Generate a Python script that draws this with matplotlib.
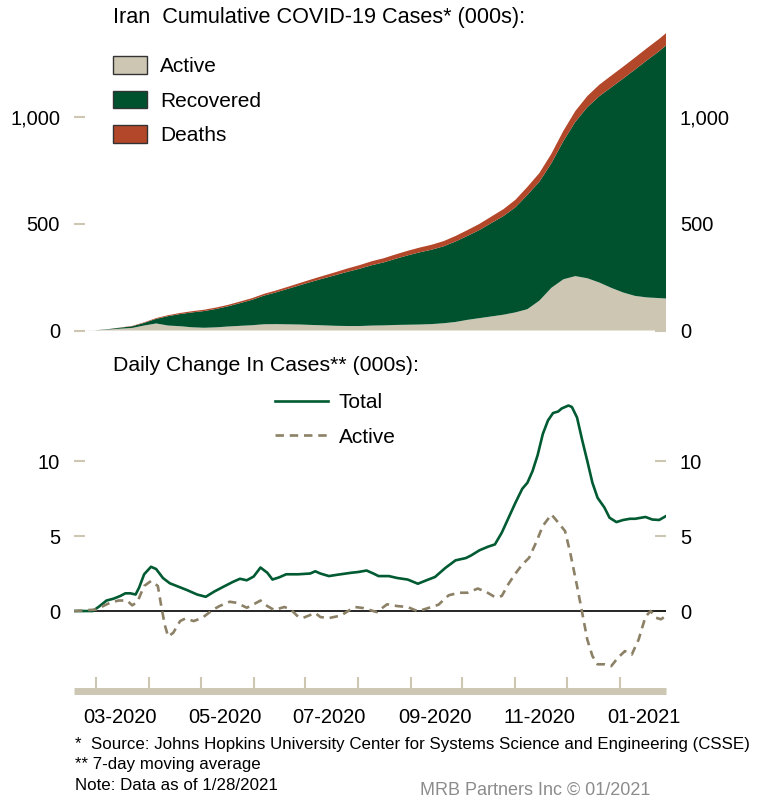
import matplotlib
matplotlib.use("Agg")
import matplotlib.pyplot as plt
import matplotlib.dates as mdates
from matplotlib.patches import Patch
from matplotlib.ticker import FuncFormatter
import numpy as np
import pandas as pd

plt.rcParams["font.family"] = ["Liberation Sans", "DejaVu Sans"]

BASE = pd.Timestamp("2020-02-17")

# cumulative series (000s), day = days since 2020-02-17
cum_day = [0, 12, 20, 27, 34, 41, 48, 55, 62, 69, 76, 83, 90, 97, 104, 111, 118,
           125, 132, 139, 146, 153, 160, 167, 174, 181, 188, 195, 202, 209, 216,
           223, 230, 237, 244, 251, 258, 265, 272, 279, 286, 293, 300, 307, 314,
           321, 328, 335, 342, 346]
confirmed = [0, 0.6, 6.6, 13.9, 21.6, 38.3, 58.2, 71.7, 82.2, 90.5, 97.4, 107.6,
             120.2, 135.7, 151.5, 171.8, 187.4, 204.9, 222.7, 240.4, 257.3, 273.8,
             291.2, 306.8, 324.7, 338.8, 356.8, 373.6, 388.8, 402.0, 419.0, 443.1,
             471.0, 500.1, 534.6, 568.9, 612.8, 673.3, 738.3, 828.4, 935.8, 1028.9,
             1099.0, 1152.1, 1194.9, 1237.1, 1280.4, 1324.6, 1367.0, 1394.0]
deaths = [0, 0.04, 0.19, 0.72, 1.69, 2.64, 3.6, 4.47, 5.12, 5.71, 6.2, 6.64, 6.94,
          7.42, 7.88, 8.28, 8.73, 9.5, 10.5, 11.57, 12.6, 13.8, 15.7, 17.0, 18.6,
          19.5, 20.6, 21.5, 22.3, 23.2, 24.3, 25.6, 27.2, 28.8, 30.4, 32.3, 34.9,
          37.4, 40.6, 44.3, 48.2, 50.6, 52.3, 53.8, 54.8, 55.5, 56.2, 56.9, 57.4,
          57.7]
active = [0, 0.5, 4.5, 8.6, 12.0, 23.3, 33.0, 23.3, 20.1, 15.1, 12.8, 14.8, 18.7,
          21.8, 24.7, 29.2, 30.0, 29.0, 28.0, 26.0, 24.0, 22.0, 21.0, 21.0, 23.0,
          24.0, 26.0, 27.0, 28.0, 30.0, 34.0, 40.0, 50.0, 58.0, 66.0, 74.0, 85.0,
          100.0, 140.0, 200.0, 240.0, 255.0, 245.0, 225.0, 200.0, 178.0, 162.0,
          155.0, 152.0, 150.0]

# daily change, 7-day moving average (000s)
total_day = [0, 11, 15, 19, 23, 27, 30, 33, 36, 38, 41, 45, 48, 52, 56, 60, 66, 72,
             77, 82, 87, 93, 97, 101, 105, 109, 113, 116, 120, 124, 131, 138, 141,
             144, 149, 154, 162, 166, 171, 175, 178, 184, 189, 195, 201, 206, 211,
             217, 223, 229, 232, 237, 242, 246, 250, 254, 258, 262, 265, 268, 271,
             274, 277, 280, 283, 285, 289, 291, 294, 297, 300, 303, 306, 310, 313,
             317, 321, 325, 328, 334, 338, 342, 346]
total_chg = [0, 0.0, 0.33, 0.7, 0.82, 1.0, 1.18, 1.18, 1.1, 1.55, 2.45, 2.95, 2.8,
             2.2, 1.85, 1.67, 1.4, 1.1, 0.95, 1.3, 1.6, 1.95, 2.15, 2.05, 2.3, 2.9,
             2.55, 2.1, 2.25, 2.45, 2.45, 2.5, 2.65, 2.5, 2.33, 2.42, 2.55, 2.6,
             2.7, 2.5, 2.33, 2.33, 2.2, 2.1, 1.82, 2.05, 2.27, 2.87, 3.38, 3.53,
             3.7, 4.05, 4.29, 4.44, 5.22, 6.22, 7.22, 8.15, 8.55, 9.33, 10.4, 11.8,
             12.7, 13.2, 13.3, 13.5, 13.7, 13.6, 12.9, 11.4, 10.0, 8.55, 7.55, 6.9,
             6.22, 5.93, 6.07, 6.15, 6.15, 6.27, 6.1, 6.07, 6.33]
active_day = [0, 13, 17, 21, 26, 31, 34, 37, 41, 45, 49, 51, 53, 55, 58, 62, 65, 70,
              75, 81, 85, 91, 95, 101, 105, 109, 113, 117, 123, 127, 131, 134, 141,
              144, 149, 156, 164, 169, 177, 183, 189, 195, 201, 207, 213, 219, 225,
              230, 236, 241, 246, 250, 254, 258, 262, 266, 270, 274, 279, 283, 287,
              290, 294, 297, 300, 303, 306, 310, 314, 318, 322, 326, 330, 334, 337,
              340, 343, 346]
active_chg = [0, 0.1, 0.33, 0.55, 0.7, 0.7, 0.38, 0.6, 1.67, 2.0, 1.67, 0.33, -0.9,
              -1.7, -1.45, -0.67, -0.5, -0.67, -0.45, 0.07, 0.33, 0.62, 0.55, 0.22,
              0.45, 0.7, 0.33, 0.07, 0.27, 0.07, -0.38, -0.45, -0.13, -0.4, -0.47,
              -0.3, 0.27, 0.2, -0.07, 0.45, 0.33, 0.27, -0.02, 0.2, 0.42, 1.05, 1.22,
              1.22, 1.5, 1.27, 0.93, 1.0, 1.82, 2.5, 3.1, 3.55, 4.55, 5.67, 6.44,
              5.9, 5.33, 3.9, 1.67, -0.1, -1.9, -3.0, -3.55, -3.55, -3.67, -3.1,
              -2.67, -2.9, -1.9, -0.38, 0.0, -0.44, -0.55, -0.33]

TAN = "#CCC6B3"
GREEN = "#00522F"
RED = "#B3472A"
LINE_GREEN = "#005A32"
KHAKI = "#8C8166"


def to_dates(days):
    return BASE + pd.to_timedelta(days, unit="D")


cum_dates = to_dates(cum_day)
recovered = np.array(confirmed) - np.array(active) - np.array(deaths)

fig = plt.figure(figsize=(7.57, 8.0), dpi=100)
ax1 = fig.add_axes([74 / 757, 1 - 330.5 / 800, 592 / 757, 298.6 / 800])
ax2 = fig.add_axes([74 / 757, 1 - 691 / 800, 592 / 757, 312.5 / 800], sharex=ax1)

# ---------------- top: cumulative
ax1.stackplot(cum_dates, active, recovered, deaths,
              colors=[TAN, GREEN, RED], linewidth=0)
ax1.set_ylim(0, 1400)
ax1.set_yticks([0, 500, 1000])
ax1.yaxis.set_major_formatter(FuncFormatter(lambda v, p: f"{v:,.0f}"))
ax1.set_axisbelow(True)
for s in ax1.spines.values():
    s.set_visible(False)
ax1.tick_params(axis="x", which="both", bottom=False, labelbottom=False)

handles = [Patch(facecolor=c, edgecolor="#333333", linewidth=1)
           for c in (TAN, GREEN, RED)]
ax1.legend(handles, ["Active", "Recovered", "Deaths"],
           loc="upper left", bbox_to_anchor=(113 / 757, 1 - 56 / 800),
           bbox_transform=fig.transFigure, frameon=False, fontsize=15,
           handlelength=1.65, handleheight=0.93, handletextpad=0.6,
           labelspacing=0.7, borderpad=0, borderaxespad=0)

fig.text(113 / 757, 1 - 18 / 800, "Iran  Cumulative COVID-19 Cases* (000s):",
         fontsize=15.6, va="center", ha="left")

# ---------------- bottom: daily change
ax2.plot(to_dates(total_day), total_chg, color=LINE_GREEN, lw=1.9,
         label="Total", zorder=3)
ax2.plot(to_dates(active_day), active_chg, color=KHAKI, lw=1.9,
         dashes=(3.2, 2.2), label="Active", zorder=3)
ax2.axhline(0, color="black", lw=1.2, zorder=2)
ax2.set_ylim(-5.33, 15.5)
ax2.set_yticks([0, 5, 10])
for k in ("top", "left", "right"):
    ax2.spines[k].set_visible(False)
ax2.spines["bottom"].set_color(TAN)
ax2.spines["bottom"].set_linewidth(5)
ax2.spines["bottom"].set_capstyle("butt")

ax2.xaxis.set_major_locator(mdates.MonthLocator(bymonth=[1, 3, 5, 7, 9, 11],
                                                bymonthday=15))
ax2.xaxis.set_major_formatter(mdates.DateFormatter("%m-%Y"))
ax2.xaxis.set_minor_locator(mdates.MonthLocator(bymonthday=1))
ax2.tick_params(axis="x", which="major", length=0, pad=12, labelsize=14.5)
ax2.tick_params(axis="x", which="minor", direction="in", length=10,
                width=1.5, color=TAN)

ax2.legend(loc="upper left", bbox_to_anchor=(275 / 757, 1 - 393 / 800),
           bbox_transform=fig.transFigure, frameon=False, fontsize=15,
           handlelength=2.55, handletextpad=0.5, labelspacing=0.75,
           borderpad=0, borderaxespad=0)

fig.text(113 / 757, 1 - 365 / 800, "Daily Change In Cases** (000s):",
         fontsize=15.3, va="center", ha="left")

for ax in (ax1, ax2):
    ax.tick_params(axis="y", left=True, right=True, labelleft=True,
                   labelright=True, direction="in", length=8, width=1.5,
                   color=TAN, pad=10, labelsize=14.5)
    ax.set_xlim(BASE, BASE + pd.Timedelta(days=346))

# ---------------- footnotes
fig.text(75 / 757, 1 - 745 / 800,
         "*  Source: Johns Hopkins University Center for Systems Science and Engineering (CSSE)",
         fontsize=12.2, va="center")
fig.text(75 / 757, 1 - 765 / 800, "** 7-day moving average",
         fontsize=12.2, va="center")
fig.text(75 / 757, 1 - 786 / 800, "Note: Data as of 1/28/2021",
         fontsize=12.2, va="center")
fig.text(420 / 757, 1 - 790 / 800, "MRB Partners Inc \u00a9 01/2021",
         fontsize=13, va="center", color="#8C8C8C")

fig.savefig("out.png", dpi=100)
